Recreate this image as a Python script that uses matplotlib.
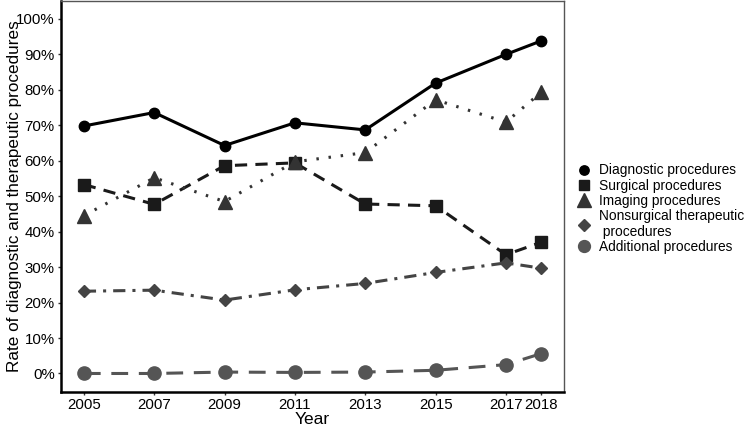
import matplotlib
matplotlib.use("Agg")
import matplotlib.pyplot as plt
from matplotlib.lines import Line2D

plt.rcParams["font.family"] = ["Liberation Sans", "DejaVu Sans"]

years = [2005, 2007, 2009, 2011, 2013, 2015, 2017, 2018]
diagnostic = [69.8, 73.6, 64.3, 70.7, 68.7, 81.9, 90.0, 93.8]
surgical = [53.3, 47.7, 58.6, 59.4, 47.8, 47.3, 33.5, 37.0]
imaging = [44.5, 55.2, 48.5, 59.7, 62.3, 77.2, 70.9, 79.3]
nonsurgical = [23.2, 23.5, 20.7, 23.6, 25.4, 28.5, 31.2, 29.7]
additional = [0.0, 0.0, 0.4, 0.3, 0.4, 0.9, 2.5, 5.6]

series = [
    ("Diagnostic procedures", diagnostic, "#000000", "o", 7.5, (None, None)),
    ("Surgical procedures", surgical, "#1a1a1a", "s", 8.5, (0, (4, 2.7))),
    ("Imaging procedures", imaging, "#333333", "^", 10.5, (0, (0.8, 3.2))),
    ("Nonsurgical therapeutic\n procedures", nonsurgical, "#444444", "D", 6.5, (0, (4, 2.3, 1, 2.3))),
    ("Additional procedures", additional, "#555555", "o", 9.5, (0, (5.5, 3.5))),
]

fig = plt.figure(figsize=(7.49, 4.26), dpi=100)
ax = fig.add_axes([0.0814, 0.080, 0.6716, 0.918])

handles = []
for label, vals, color, marker, ms, dash in series:
    ls = "-" if dash[0] is None else dash
    ax.plot(years, vals, color=color, linestyle=ls, linewidth=2.2,
            marker=marker, markersize=ms, zorder=3)
    handles.append(Line2D([], [], color=color, linestyle="none", marker=marker,
                          markersize=ms * 0.9, label=label))

ax.set_xlim(2004.35, 2018.65)
ax.set_ylim(-5.2, 105.1)
ax.set_xticks(years)
ax.set_xticklabels([str(y) for y in years], fontsize=10.8, color="black")
ax.set_yticks(range(0, 101, 10))
ax.set_yticklabels([f"{v}%" for v in range(0, 101, 10)], fontsize=10.8, color="black")
ax.tick_params(axis="both", length=2.5, width=1, color="#333333", pad=2)
ax.set_xlabel("Year", fontsize=12.5, labelpad=0)
ax.set_ylabel("Rate of diagnostic and therapeutic procedures", fontsize=12.3)
ax.yaxis.set_label_coords(-0.078, 0.5)

for side in ["left", "bottom"]:
    ax.spines[side].set_linewidth(1.8)
    ax.spines[side].set_color("black")
for side in ["top", "right"]:
    ax.spines[side].set_linewidth(1.0)
    ax.spines[side].set_color("#555555")

ax.legend(handles=handles, loc="center left", bbox_to_anchor=(0.77, 0.51),
          bbox_transform=fig.transFigure, frameon=False, fontsize=9.9,
          labelspacing=0.08, handletextpad=0.5, handlelength=1.1,
          borderpad=0, borderaxespad=0)

fig.savefig("out.png", dpi=100)
